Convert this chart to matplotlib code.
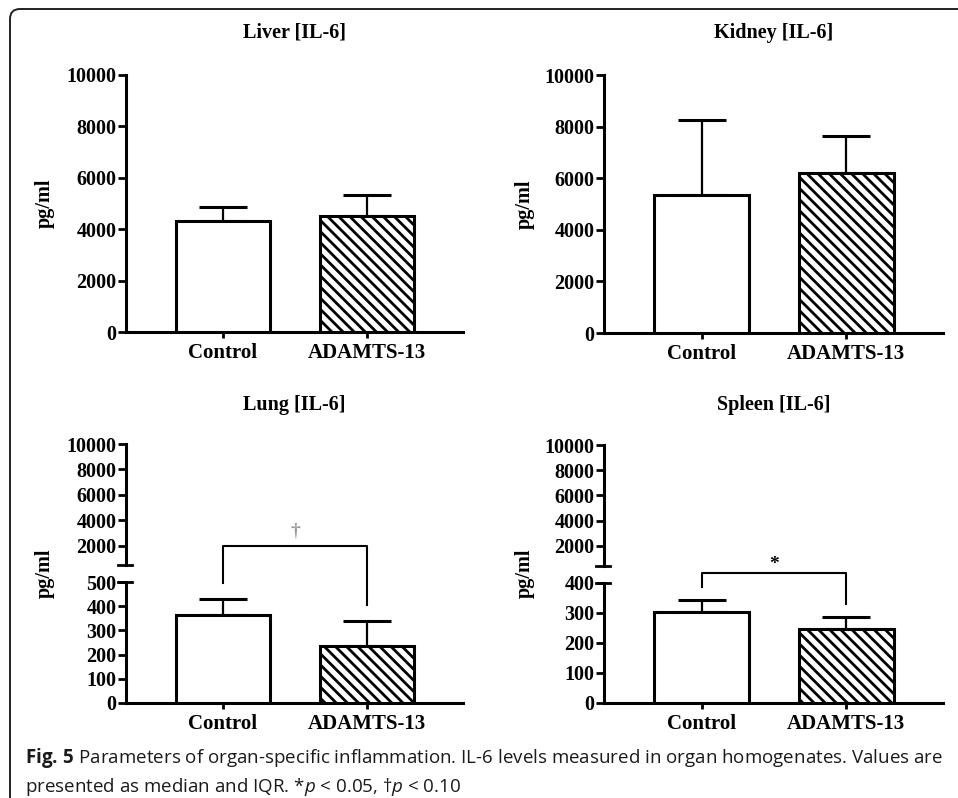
import numpy as np
import matplotlib.pyplot as plt
from matplotlib.patches import FancyBboxPatch
from matplotlib.transforms import IdentityTransform

# IL-6 (pg/ml), median and upper quartile
groups = ['Control', 'ADAMTS-13']
liver_median = [4300, 4520]
liver_q3 = [4880, 5330]
kidney_median = [5350, 6190]
kidney_q3 = [8250, 7640]
lung_median = [365, 237]
lung_q3 = [430, 340]
spleen_median = [303, 248]
spleen_q3 = [343, 286]

big_ticks = [0, 2000, 4000, 6000, 8000, 10000]
upper_ticks = [2000, 4000, 6000, 8000, 10000]
lung_ticks = [0, 100, 200, 300, 400, 500]
spleen_ticks = [0, 100, 200, 300, 400]

W, H = 958, 798
plt.rcParams['font.family'] = ['Liberation Serif', 'DejaVu Serif']
plt.rcParams['font.weight'] = 'bold'
plt.rcParams['hatch.linewidth'] = 2.0
plt.rcParams['mathtext.fontset'] = 'custom'
plt.rcParams['mathtext.rm'] = 'Open Sans:weight=normal'
plt.rcParams['mathtext.it'] = 'Open Sans:style=italic:weight=normal'
plt.rcParams['mathtext.bf'] = 'Open Sans:weight=bold'

fig = plt.figure(figsize=(W / 100, H / 100), dpi=100)


def box(x0, x1, y0, y1):
    # pixel box -> figure fraction
    return [x0 / W, 1 - y1 / H, (x1 - x0) / W, (y1 - y0) / H]


XLIM = (-0.674, 1.667)


def style(ax, ticks, ylim, xaxis=True):
    ax.set_xlim(*XLIM)
    ax.set_ylim(*ylim)
    ax.spines['top'].set_visible(False)
    ax.spines['right'].set_visible(False)
    ax.spines['left'].set_linewidth(2.2)
    ax.spines['bottom'].set_linewidth(2.2)
    ax.set_yticks(ticks)
    ax.tick_params(axis='y', length=5.8, width=2, pad=1, labelsize=14.5)
    if xaxis:
        ax.set_xticks(range(len(groups)), groups)
        ax.tick_params(axis='x', length=4.5, width=2, pad=3.5, labelsize=15)
    else:
        ax.spines['bottom'].set_visible(False)
        ax.set_xticks([])
    ax.patch.set_alpha(0)


def bars(ax, med, q3):
    x = np.arange(len(groups))
    b = ax.bar(x, med, width=0.653, color='white', edgecolor='black',
               linewidth=2.2, zorder=3)
    b[1].set_hatch('\\\\\\')
    err = np.array(q3) - np.array(med)
    ax.errorbar(x, med, yerr=[np.zeros(len(x)), err], fmt='none',
                ecolor='black', elinewidth=1.6, capsize=17, capthick=2.2,
                zorder=2)


def breakmark(ax, y):
    ax.plot([-0.025, 0.018], [y, y], color='black', lw=2,
            transform=ax.get_yaxis_transform(), clip_on=False)


# top row
ax1 = fig.add_axes(box(126, 463, 75, 332))
bars(ax1, liver_median, liver_q3)
style(ax1, big_ticks, (0, 10000))

ax2 = fig.add_axes(box(604, 943, 75, 333))
bars(ax2, kidney_median, kidney_q3)
style(ax2, big_ticks, (0, 10000))

# bottom row, broken axes
ax3u = fig.add_axes(box(126, 463, 444, 565))
style(ax3u, upper_ticks, (500, 10000), xaxis=False)
breakmark(ax3u, 500)
ax3 = fig.add_axes(box(126, 463, 582, 703))
bars(ax3, lung_median, lung_q3)
style(ax3, lung_ticks, (0, 500))
breakmark(ax3, 500)

ax4u = fig.add_axes(box(604, 943, 445, 566))
style(ax4u, upper_ticks, (400, 10000), xaxis=False)
breakmark(ax4u, 400)
ax4 = fig.add_axes(box(604, 943, 583, 703))
bars(ax4, spleen_median, spleen_q3)
style(ax4, spleen_ticks, (0, 400))
breakmark(ax4, 400)


def bracket(ax, q3, top, gap, sign, sign_y, color):
    ax.plot([0, 0, 1, 1], [q3[0] + gap, top, top, q3[1] + gap],
            color='black', lw=1.5, clip_on=False, zorder=4)
    ax.text(0.5, sign_y, sign, ha='center', va='center', fontsize=14,
            color=color, clip_on=False)


bracket(ax3, lung_q3, 649, 65, '\u2020', 712, '#9a9a9a')
bracket(ax4, spleen_q3, 433, 44, '*', 462, 'black')

# titles and y labels
for cx, cy, t in [(294.5, 33, 'Liver [IL-6]'), (773.5, 33, 'Kidney [IL-6]'),
                  (294.5, 405, 'Lung [IL-6]'), (773.5, 405, 'Spleen [IL-6]')]:
    fig.text(cx / W, 1 - cy / H, t, ha='center', va='center', fontsize=14.5)

for cx, cy in [(45, 203.5), (525, 204), (45, 573), (525, 573)]:
    fig.text(cx / W, 1 - cy / H, 'pg/ml', ha='center', va='center',
             rotation=90, fontsize=14.5)

# caption
cap1 = (r'$\mathbf{Fig.\,5}$ Parameters of organ-specific inflammation. '
        'IL-6 levels measured in organ homogenates. Values are')
cap2 = r'presented as median and IQR. *$p$ < 0.05, ' + '\u2020' + r'$p$ < 0.10'
for cy, line in [(758, cap1), (787, cap2)]:
    fig.text(25 / W, 1 - cy / H, line, ha='left', va='center', fontsize=13.5,
             family=['Open Sans', 'DejaVu Sans'], weight='normal',
             color='#1a1a1a')

# rounded frame, open to the right and bottom
frame = FancyBboxPatch((10, -40), W + 60, H - 9 + 40,
                       boxstyle='round,pad=0,rounding_size=10',
                       fill=False, edgecolor='#222222', lw=1.4,
                       transform=IdentityTransform())
fig.add_artist(frame)

fig.savefig('out.png', dpi=100)
